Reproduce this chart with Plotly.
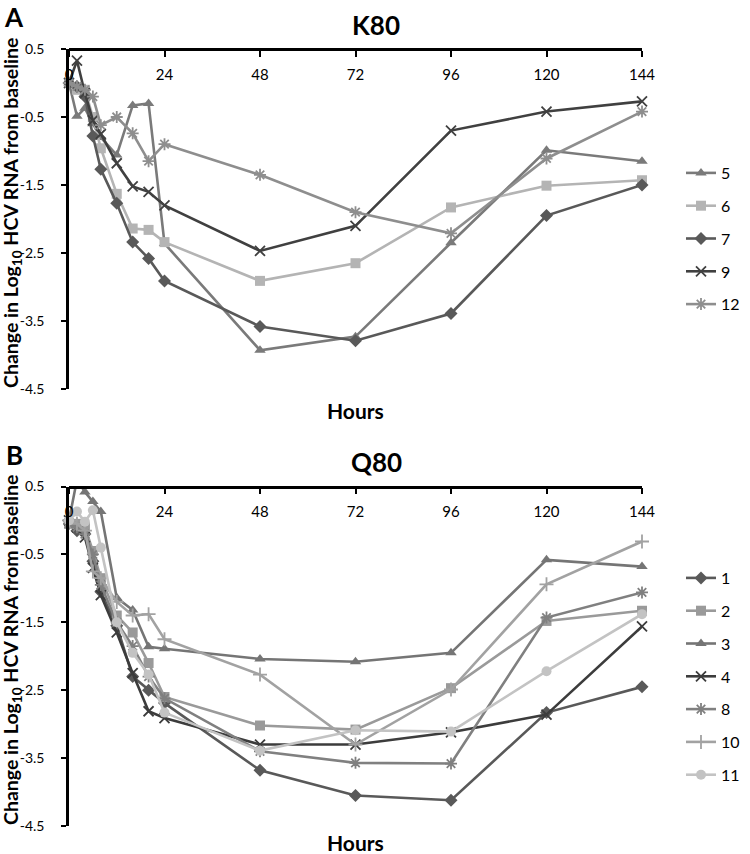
import plotly.graph_objects as go

hours = [0, 2, 4, 6, 8, 12, 16, 20, 24, 48, 72, 96, 120, 144]
x_ticks = [0, 24, 48, 72, 96, 120, 144]
y_ticks = [0.5, -0.5, -1.5, -2.5, -3.5, -4.5]

# Panel A: K80
k80_names = ["5", "6", "7", "9", "12"]
k80_p5 = [0, -0.49, -0.37, -0.6, -0.8, -1.06, -0.33, -0.30, -2.36, -3.93, -3.73, -2.35, -0.99, -1.15]
k80_p6 = [0, -0.1, -0.1, -0.5, -0.96, -1.63, -2.14, -2.16, -2.34, -2.91, -2.65, -1.83, -1.51, -1.43]
k80_p7 = [0, -0.05, -0.2, -0.78, -1.27, -1.77, -2.34, -2.58, -2.91, -3.58, -3.79, -3.39, -1.95, -1.50]
k80_p9 = [0, 0.33, -0.15, -0.55, -0.75, -1.18, -1.52, -1.60, -1.80, -2.47, -2.10, -0.70, -0.42, -0.27]
k80_p12 = [0, -0.05, -0.1, -0.2, -0.62, -0.5, -0.74, -1.15, -0.90, -1.35, -1.90, -2.21, -1.11, -0.42]

# Panel B: Q80
q80_names = ["1", "2", "3", "4", "8", "10", "11"]
q80_p1 = [0, -0.15, -0.2, -0.6, -1.05, -1.55, -2.3, -2.5, -2.69, -3.68, -4.05, -4.12, -2.83, -2.45]
q80_p2 = [-0.05, -0.05, -0.1, -0.45, -0.85, -1.4, -1.65, -2.1, -2.6, -3.02, -3.08, -2.47, -1.48, -1.33]
q80_p3 = [0, 0.6, 0.42, 0.28, 0.13, -1.14, -1.32, -1.86, -1.89, -2.04, -2.08, -1.95, -0.58, -0.68]
q80_p4 = [0, -0.1, -0.25, -0.7, -1.1, -1.65, -2.25, -2.81, -2.91, -3.30, -3.30, -3.12, -2.86, -1.56]
q80_p8 = [-0.05, -0.1, -0.2, -0.5, -0.95, -1.5, -1.85, -2.3, -2.62, -3.40, -3.57, -3.58, -1.43, -1.06]
q80_p10 = [0, -0.05, -0.15, -0.75, -0.85, -1.2, -1.4, -1.38, -1.75, -2.27, -3.30, -2.49, -0.94, -0.31]
q80_p11 = [0, 0.13, -0.02, 0.15, -0.4, -1.5, -1.95, -2.27, -2.83, -3.39, -3.09, -3.11, -2.22, -1.38]

FONT = "Lato, 'Liberation Sans', sans-serif"
W, H = 750, 854

k80_series = [
    (k80_names[0], k80_p5, "#7a7a7a", "triangle-up"),
    (k80_names[1], k80_p6, "#b4b4b4", "square"),
    (k80_names[2], k80_p7, "#595959", "diamond"),
    (k80_names[3], k80_p9, "#404040", "x-thin-open"),
    (k80_names[4], k80_p12, "#8e8e8e", "asterisk-open"),
]
q80_series = [
    (q80_names[0], q80_p1, "#595959", "diamond"),
    (q80_names[1], q80_p2, "#9a9a9a", "square"),
    (q80_names[2], q80_p3, "#757575", "triangle-up"),
    (q80_names[3], q80_p4, "#3c3c3c", "x-thin-open"),
    (q80_names[4], q80_p8, "#808080", "asterisk-open"),
    (q80_names[5], q80_p10, "#a2a2a2", "cross-thin-open"),
    (q80_names[6], q80_p11, "#c3c3c3", "circle"),
]

fig = go.Figure()

def add(series, xa, ya, legend):
    for name, vals, col, sym in series:
        thin = sym.endswith("open")
        fig.add_trace(go.Scatter(
            x=hours, y=vals, name=name, mode="lines+markers",
            xaxis=xa, yaxis=ya, legend=legend, legendgroup=legend + name,
            line=dict(color=col, width=2.6),
            marker=dict(symbol=sym, size=10, color=col,
                        line=dict(color=col, width=1.8 if thin else 0)),
            cliponaxis=False,
        ))

add(k80_series, "x", "y", "legend")
add(q80_series, "x2", "y2", "legend2")

xdom = [69 / W, 642 / W]
ydomA = [1 - 389 / H, 1 - 49 / H]
ydomB = [1 - 826 / H, 1 - 486.5 / H]

def xaxis(dom_top):
    return dict(domain=xdom, anchor="free", position=dom_top, side="bottom",
                range=[0, 144], automargin=False,
                tickvals=x_ticks, ticktext=[str(t) for t in x_ticks],
                ticks="outside", ticklen=6, tickwidth=2, tickcolor="black",
                ticklabelstandoff=5,
                showline=True, linecolor="black", linewidth=2.5,
                showgrid=False, zeroline=False,
                tickfont=dict(family=FONT, size=15, color="black"))

def yaxis(anchor, dom):
    return dict(domain=dom, anchor=anchor, range=[-4.5, 0.5], automargin=False,
                tickvals=y_ticks, ticktext=[f"{t:.1f}" for t in y_ticks],
                ticks="outside", ticklen=5, tickwidth=2, tickcolor="black",
                ticklabelstandoff=14,
                showline=True, linecolor="black", linewidth=2.5,
                showgrid=False, zeroline=False,
                tickfont=dict(family=FONT, size=14, color="black"))

legend_common = dict(font=dict(family=FONT, size=16, color="black"),
                     tracegroupgap=9, bgcolor="rgba(0,0,0,0)",
                     xanchor="left", yanchor="top", itemwidth=30)

fig.update_layout(
    width=W, height=H, margin=dict(l=0, r=0, t=0, b=0, autoexpand=False),
    plot_bgcolor="white", paper_bgcolor="white",
    xaxis=xaxis(ydomA[1]), yaxis=yaxis("x", ydomA),
    xaxis2=xaxis(ydomB[1]), yaxis2=yaxis("x2", ydomB),
    legend=dict(x=681 / W, y=1 - 156 / H, **legend_common),
    legend2=dict(x=681 / W, y=1 - 561 / H, **legend_common),
)

ann = []
def txt(x, y, s, size, bold=True, angle=0):
    ann.append(dict(x=x / W, y=1 - y / H, xref="paper", yref="paper", text=f"<b>{s}</b>" if bold else s,
                    showarrow=False, textangle=angle, xanchor="center", yanchor="middle",
                    font=dict(family=FONT, size=size, color="black")))

txt(14, 17, "A", 26)
txt(376, 25, "K80", 26)
txt(14, 455, "B", 26)
txt(376, 462, "Q80", 26)
txt(355, 410, "Hours", 21)
txt(355, 842, "Hours", 21)
ytitle = "Change in Log<sub>10</sub> HCV RNA from baseline"
txt(12, 213, ytitle, 19.5, angle=-90)
txt(12, 650, ytitle, 19.5, angle=-90)
fig.update_layout(annotations=ann)

fig.write_html("out.html", config={"displayModeBar": False},
               post_script="document.body.style.margin='0';document.body.style.overflow='hidden';")
